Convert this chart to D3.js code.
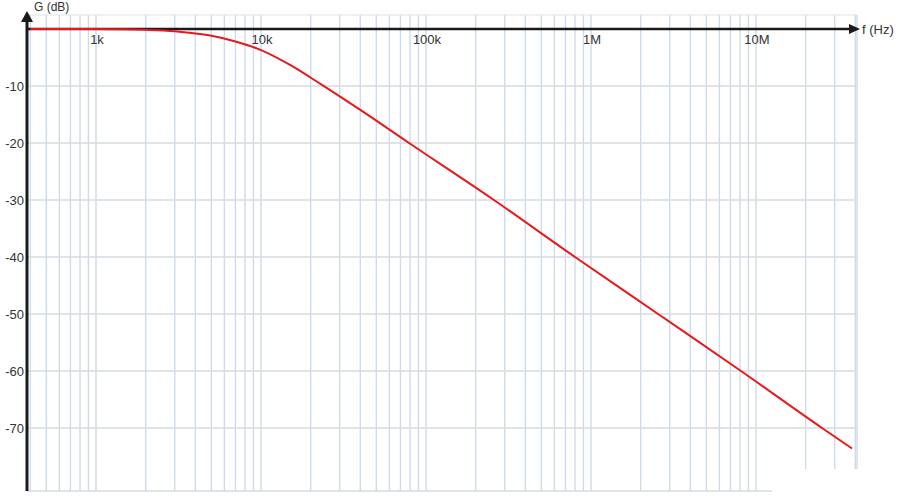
<!DOCTYPE html>
<html>
<head>
<meta charset="utf-8">
<script src="https://cdn.jsdelivr.net/npm/d3@7"></script>
<style>
  html, body { margin: 0; padding: 0; background: #fff; }
  svg { display: block; font-family: "Liberation Sans", Arial, sans-serif; }
</style>
</head>
<body>
<svg id="chart" width="907" height="502"></svg>
<script>
// ---- data ----
const freqHz = [400, 1000, 2000, 3000, 4000, 5000, 7000, 10000, 15000, 23400, 40000, 78900, 258000, 800000, 2550000, 8110000, 25100000, 38200000];
const gainDb = [0, 0, -0.15, -0.4, -0.8, -1.2, -2.2, -3.7, -6.3, -9.8, -14.2, -20, -30, -40, -50, -60, -70, -73.6];
const xTickValues = [1e3, 1e4, 1e5, 1e6, 1e7];
const xTickLabels = ["1k", "10k", "100k", "1M", "10M"];
const yTickValues = [-10, -20, -30, -40, -50, -60, -70];
const yTickLabels = ["-10", "-20", "-30", "-40", "-50", "-60", "-70"];
const xAxisTitle = "f (Hz)";
const yAxisTitle = "G (dB)";

// ---- layout ----
const svg = d3.select("#chart");
const plotLeft = 27, plotRight = 857, plotTop = 15, plotBottom = 491;

const x = d3.scaleLog().domain([1e3, 1e7]).range([96, 756]);
const y = d3.scaleLinear().domain([0, -70]).range([29, 428]);

// vertical grid: 1..9 per decade
const vGrid = [];
for (let e = 2; e <= 7; e++) {
  for (let m = 1; m <= 9; m++) {
    const f = m * Math.pow(10, e);
    const px = x(f);
    if (px > plotLeft + 2 && px < plotRight - 1) vGrid.push(f);
  }
}

const grid = svg.append("g");
grid.selectAll("line.v").data(vGrid).join("line")
  .attr("x1", d => x(d)).attr("x2", d => x(d))
  .attr("y1", plotTop).attr("y2", plotBottom)
  .attr("stroke", "#cfdbe8").attr("stroke-width", 1.4);

grid.selectAll("line.h").data(yTickValues).join("line")
  .attr("x1", plotLeft).attr("x2", plotRight)
  .attr("y1", d => y(d)).attr("y2", d => y(d))
  .attr("stroke", "#d6dbe1").attr("stroke-width", 1.4);

// border lines (top, right, bottom)
grid.append("line").attr("x1", plotLeft).attr("x2", plotRight).attr("y1", plotTop).attr("y2", plotTop)
  .attr("stroke", "#dde3ea").attr("stroke-width", 1.2);
grid.append("line").attr("x1", plotRight).attr("x2", plotRight).attr("y1", plotTop).attr("y2", plotBottom)
  .attr("stroke", "#cfdbe8").attr("stroke-width", 1.4);
grid.append("line").attr("x1", plotLeft).attr("x2", plotRight).attr("y1", plotBottom).attr("y2", plotBottom)
  .attr("stroke", "#d6dbe1").attr("stroke-width", 1.4);

// erased patch at bottom right
svg.append("rect").attr("x", 772).attr("y", 469).attr("width", 120).attr("height", 30).attr("fill", "#fff");

// ---- curve ----
const line = d3.line()
  .x((d, i) => x(freqHz[i]))
  .y((d, i) => y(gainDb[i]))
  .curve(d3.curveMonotoneX);

// ---- x axis (at 0 dB) ----
const axisColor = "#1a1a1a";
svg.append("line")
  .attr("x1", plotLeft).attr("x2", 852)
  .attr("y1", y(0)).attr("y2", y(0))
  .attr("stroke", axisColor).attr("stroke-width", 2.4);
svg.append("path")
  .attr("d", `M${860},${y(0)} L${849},${y(0) - 5} L${849},${y(0) + 5} Z`)
  .attr("fill", axisColor);

svg.append("path")
  .datum(gainDb)
  .attr("d", line)
  .attr("fill", "none")
  .attr("stroke", "#e8191e")
  .attr("stroke-width", 2);

svg.append("g").selectAll("text").data(xTickValues).join("text")
  .attr("x", d => x(d) + 1)
  .attr("y", y(0) + 15)
  .attr("text-anchor", "middle")
  .attr("font-size", 13)
  .attr("fill", "#333")
  .text((d, i) => xTickLabels[i]);

svg.append("text")
  .attr("x", 862).attr("y", y(0) + 5)
  .attr("font-size", 13).attr("fill", "#333")
  .text(xAxisTitle);

// ---- y axis ----
svg.append("line")
  .attr("x1", plotLeft).attr("x2", plotLeft)
  .attr("y1", 18).attr("y2", plotBottom)
  .attr("stroke", axisColor).attr("stroke-width", 3);
svg.append("path")
  .attr("d", `M${plotLeft},${11} L${plotLeft - 6},${22} L${plotLeft + 6},${22} Z`)
  .attr("fill", axisColor);

svg.append("g").selectAll("text").data(yTickValues).join("text")
  .attr("x", plotLeft - 3)
  .attr("y", d => y(d))
  .attr("dy", "0.36em")
  .attr("text-anchor", "end")
  .attr("font-size", 13)
  .attr("fill", "#333")
  .text((d, i) => yTickLabels[i]);

svg.append("text")
  .attr("x", 34).attr("y", 11)
  .attr("font-size", 12).attr("fill", "#333")
  .text(yAxisTitle);
</script>
</body>
</html>
